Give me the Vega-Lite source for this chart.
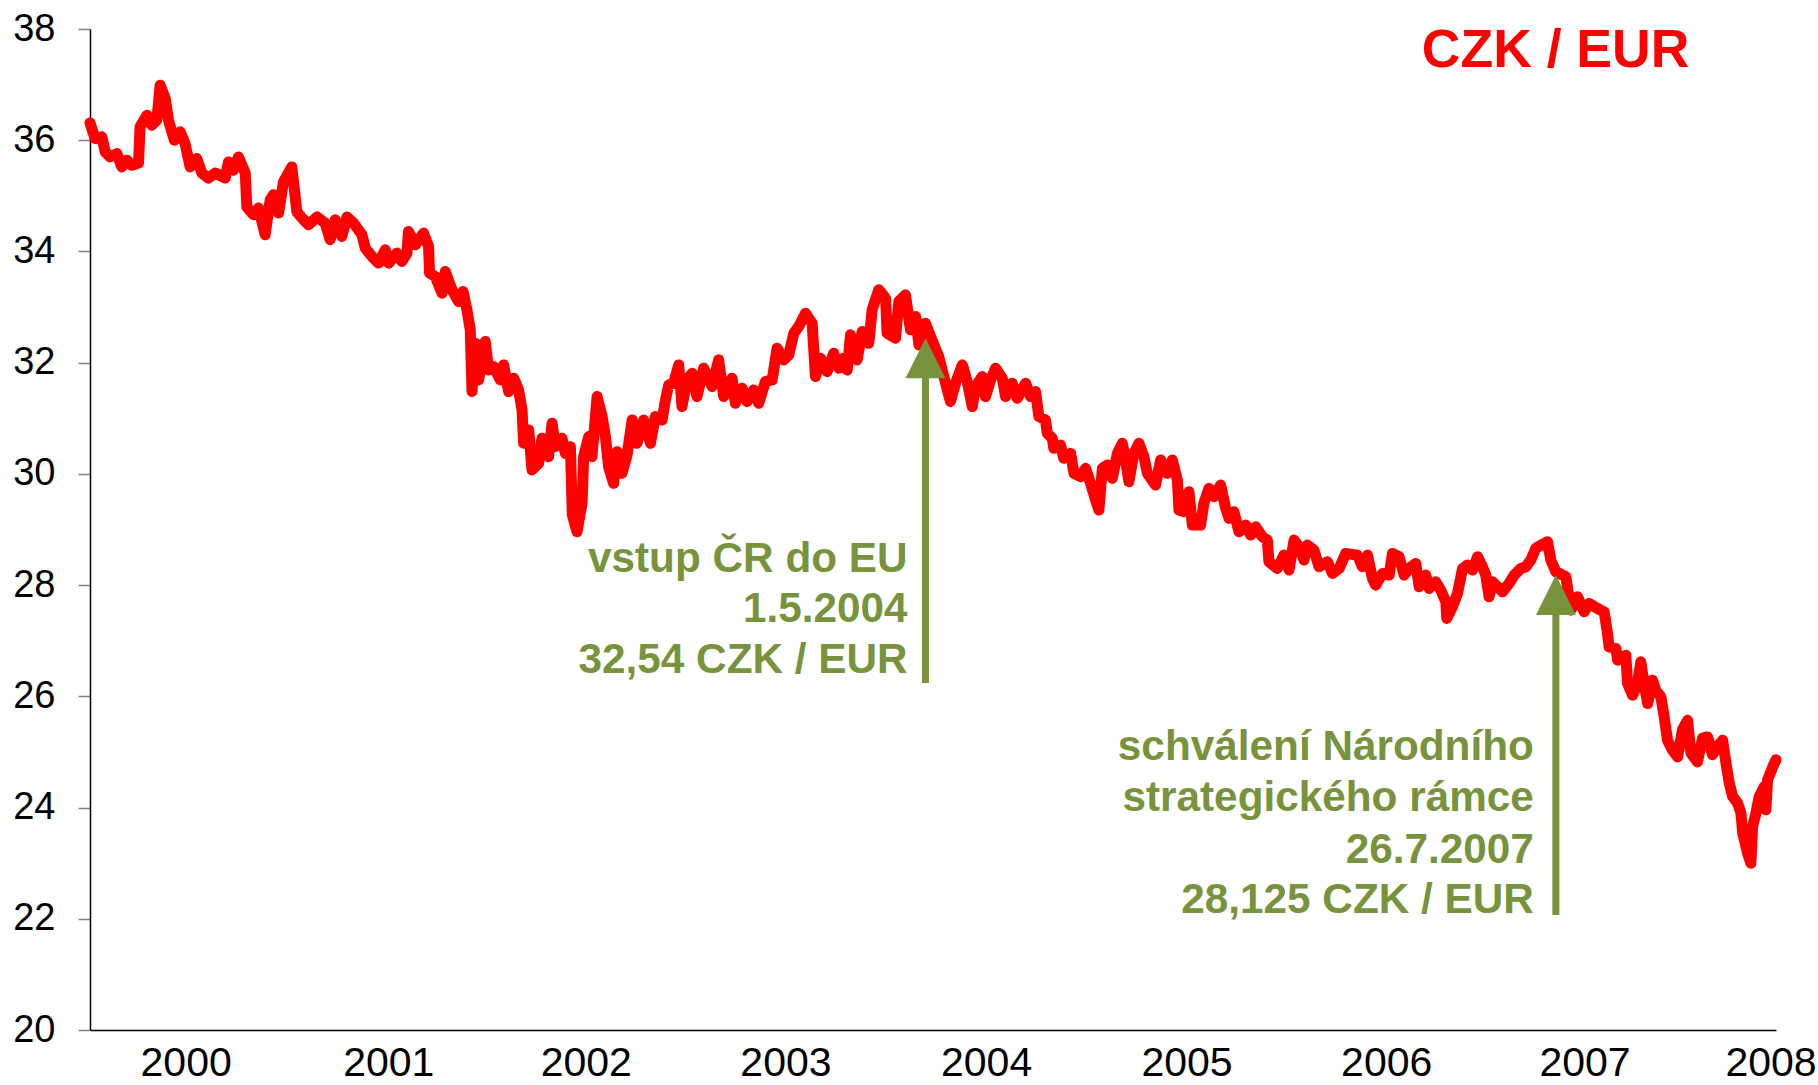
{
  "$schema": "https://vega.github.io/schema/vega-lite/v6.json",
  "width": 1686,
  "height": 1001,
  "autosize": {"type": "none"},
  "padding": {"left": 90, "top": 29, "right": 42, "bottom": 55},
  "background": "white",
  "config": {"view": {"stroke": null}, "font": "Liberation Sans"},
  "datasets": {
    "rate": [
      {"t":2000.041,"v":36.31},{"t":2000.067,"v":36.03},{"t":2000.102,"v":36.06},{"t":2000.119,"v":35.79},{"t":2000.144,"v":35.70},
      {"t":2000.179,"v":35.76},{"t":2000.204,"v":35.52},{"t":2000.230,"v":35.64},{"t":2000.256,"v":35.55},{"t":2000.290,"v":35.59},
      {"t":2000.298,"v":36.24},{"t":2000.333,"v":36.45},{"t":2000.358,"v":36.27},{"t":2000.384,"v":36.36},{"t":2000.401,"v":36.99},
      {"t":2000.427,"v":36.75},{"t":2000.444,"v":36.36},{"t":2000.474,"v":36.00},{"t":2000.504,"v":36.15},{"t":2000.529,"v":35.94},
      {"t":2000.555,"v":35.52},{"t":2000.589,"v":35.67},{"t":2000.615,"v":35.41},{"t":2000.649,"v":35.32},{"t":2000.683,"v":35.41},
      {"t":2000.735,"v":35.32},{"t":2000.752,"v":35.61},{"t":2000.777,"v":35.46},{"t":2000.803,"v":35.70},{"t":2000.838,"v":35.41},
      {"t":2000.846,"v":34.80},{"t":2000.880,"v":34.66},{"t":2000.906,"v":34.78},{"t":2000.940,"v":34.30},{"t":2000.966,"v":34.93},
      {"t":2000.983,"v":35.02},{"t":2001.009,"v":34.69},{"t":2001.034,"v":35.25},{"t":2001.077,"v":35.52},{"t":2001.103,"v":34.71},
      {"t":2001.137,"v":34.57},{"t":2001.163,"v":34.48},{"t":2001.206,"v":34.62},{"t":2001.248,"v":34.51},{"t":2001.274,"v":34.21},
      {"t":2001.300,"v":34.57},{"t":2001.334,"v":34.27},{"t":2001.360,"v":34.62},{"t":2001.394,"v":34.51},{"t":2001.437,"v":34.30},
      {"t":2001.454,"v":34.06},{"t":2001.488,"v":33.91},{"t":2001.522,"v":33.79},{"t":2001.557,"v":34.03},{"t":2001.574,"v":33.79},
      {"t":2001.617,"v":33.97},{"t":2001.642,"v":33.82},{"t":2001.668,"v":33.97},{"t":2001.676,"v":34.36},{"t":2001.711,"v":34.12},
      {"t":2001.753,"v":34.33},{"t":2001.779,"v":34.09},{"t":2001.784,"v":33.61},{"t":2001.813,"v":33.55},{"t":2001.848,"v":33.25},
      {"t":2001.865,"v":33.64},{"t":2001.899,"v":33.31},{"t":2001.933,"v":33.10},{"t":2001.956,"v":33.28},{"t":2001.976,"v":32.95},
      {"t":2001.993,"v":32.59},{"t":2002.002,"v":31.48},{"t":2002.019,"v":32.35},{"t":2002.036,"v":31.69},{"t":2002.070,"v":32.38},
      {"t":2002.087,"v":31.87},{"t":2002.113,"v":31.93},{"t":2002.147,"v":31.69},{"t":2002.164,"v":31.96},{"t":2002.190,"v":31.48},
      {"t":2002.216,"v":31.72},{"t":2002.241,"v":31.51},{"t":2002.259,"v":31.15},{"t":2002.267,"v":30.55},{"t":2002.293,"v":30.79},
      {"t":2002.310,"v":30.07},{"t":2002.344,"v":30.19},{"t":2002.361,"v":30.64},{"t":2002.395,"v":30.31},{"t":2002.413,"v":30.91},
      {"t":2002.430,"v":30.49},{"t":2002.464,"v":30.64},{"t":2002.481,"v":30.37},{"t":2002.507,"v":30.49},{"t":2002.517,"v":29.26},
      {"t":2002.541,"v":28.96},{"t":2002.567,"v":29.47},{"t":2002.575,"v":30.31},{"t":2002.601,"v":30.67},{"t":2002.618,"v":30.31},
      {"t":2002.644,"v":31.39},{"t":2002.670,"v":31.03},{"t":2002.687,"v":30.67},{"t":2002.703,"v":30.13},{"t":2002.729,"v":29.83},
      {"t":2002.747,"v":30.40},{"t":2002.772,"v":30.01},{"t":2002.798,"v":30.34},{"t":2002.824,"v":30.97},{"t":2002.849,"v":30.55},
      {"t":2002.883,"v":30.97},{"t":2002.918,"v":30.55},{"t":2002.943,"v":31.03},{"t":2002.978,"v":30.97},{"t":2002.995,"v":31.33},
      {"t":2003.012,"v":31.60},{"t":2003.037,"v":31.63},{"t":2003.063,"v":31.96},{"t":2003.080,"v":31.21},{"t":2003.106,"v":31.69},
      {"t":2003.132,"v":31.81},{"t":2003.157,"v":31.39},{"t":2003.191,"v":31.90},{"t":2003.235,"v":31.57},{"t":2003.268,"v":32.05},
      {"t":2003.294,"v":31.39},{"t":2003.337,"v":31.72},{"t":2003.354,"v":31.27},{"t":2003.389,"v":31.54},{"t":2003.414,"v":31.30},
      {"t":2003.448,"v":31.51},{"t":2003.474,"v":31.27},{"t":2003.508,"v":31.66},{"t":2003.543,"v":31.69},{"t":2003.568,"v":32.26},
      {"t":2003.602,"v":32.05},{"t":2003.628,"v":32.14},{"t":2003.654,"v":32.53},{"t":2003.679,"v":32.65},{"t":2003.714,"v":32.89},
      {"t":2003.748,"v":32.71},{"t":2003.765,"v":31.75},{"t":2003.791,"v":32.08},{"t":2003.825,"v":31.84},{"t":2003.859,"v":32.17},
      {"t":2003.885,"v":31.90},{"t":2003.910,"v":32.08},{"t":2003.928,"v":31.87},{"t":2003.945,"v":32.50},{"t":2003.979,"v":32.05},
      {"t":2004.005,"v":32.56},{"t":2004.039,"v":32.35},{"t":2004.056,"v":32.95},{"t":2004.090,"v":33.31},{"t":2004.125,"v":33.16},
      {"t":2004.133,"v":32.53},{"t":2004.176,"v":32.44},{"t":2004.193,"v":33.10},{"t":2004.227,"v":33.22},{"t":2004.253,"v":32.59},
      {"t":2004.279,"v":32.83},{"t":2004.296,"v":32.32},{"t":2004.330,"v":32.71},{"t":2004.356,"v":32.47},{"t":2004.398,"v":32.11},
      {"t":2004.424,"v":31.75},{"t":2004.458,"v":31.30},{"t":2004.484,"v":31.63},{"t":2004.519,"v":31.96},{"t":2004.544,"v":31.66},
      {"t":2004.570,"v":31.21},{"t":2004.587,"v":31.57},{"t":2004.621,"v":31.75},{"t":2004.638,"v":31.39},{"t":2004.664,"v":31.69},
      {"t":2004.690,"v":31.90},{"t":2004.724,"v":31.72},{"t":2004.741,"v":31.39},{"t":2004.775,"v":31.63},{"t":2004.801,"v":31.36},
      {"t":2004.844,"v":31.63},{"t":2004.869,"v":31.39},{"t":2004.895,"v":31.48},{"t":2004.912,"v":31.03},{"t":2004.946,"v":30.97},
      {"t":2004.955,"v":30.73},{"t":2004.981,"v":30.64},{"t":2004.989,"v":30.46},{"t":2005.023,"v":30.52},{"t":2005.040,"v":30.28},
      {"t":2005.075,"v":30.37},{"t":2005.092,"v":30.01},{"t":2005.126,"v":29.95},{"t":2005.152,"v":30.10},{"t":2005.177,"v":29.83},
      {"t":2005.203,"v":29.53},{"t":2005.220,"v":29.35},{"t":2005.238,"v":30.10},{"t":2005.263,"v":30.16},{"t":2005.289,"v":29.92},
      {"t":2005.315,"v":30.37},{"t":2005.340,"v":30.55},{"t":2005.357,"v":30.25},{"t":2005.374,"v":29.86},{"t":2005.400,"v":30.37},
      {"t":2005.426,"v":30.55},{"t":2005.451,"v":30.31},{"t":2005.469,"v":30.01},{"t":2005.511,"v":29.80},{"t":2005.537,"v":30.25},
      {"t":2005.571,"v":30.01},{"t":2005.597,"v":30.25},{"t":2005.623,"v":29.89},{"t":2005.631,"v":29.35},{"t":2005.657,"v":29.32},
      {"t":2005.682,"v":29.68},{"t":2005.700,"v":29.08},{"t":2005.742,"v":29.08},{"t":2005.759,"v":29.47},{"t":2005.785,"v":29.74},
      {"t":2005.811,"v":29.59},{"t":2005.845,"v":29.80},{"t":2005.871,"v":29.38},{"t":2005.888,"v":29.20},{"t":2005.913,"v":29.32},
      {"t":2005.939,"v":28.96},{"t":2005.974,"v":29.08},{"t":2005.999,"v":28.90},{"t":2006.025,"v":29.05},{"t":2006.059,"v":28.87},
      {"t":2006.085,"v":28.81},{"t":2006.093,"v":28.42},{"t":2006.136,"v":28.30},{"t":2006.170,"v":28.54},{"t":2006.196,"v":28.27},
      {"t":2006.222,"v":28.81},{"t":2006.247,"v":28.69},{"t":2006.273,"v":28.45},{"t":2006.290,"v":28.72},{"t":2006.324,"v":28.63},
      {"t":2006.350,"v":28.33},{"t":2006.393,"v":28.42},{"t":2006.419,"v":28.21},{"t":2006.453,"v":28.30},{"t":2006.487,"v":28.57},
      {"t":2006.547,"v":28.54},{"t":2006.573,"v":28.33},{"t":2006.599,"v":28.54},{"t":2006.624,"v":28.12},{"t":2006.641,"v":28.00},
      {"t":2006.676,"v":28.21},{"t":2006.710,"v":28.18},{"t":2006.727,"v":28.57},{"t":2006.761,"v":28.51},{"t":2006.787,"v":28.18},
      {"t":2006.812,"v":28.30},{"t":2006.847,"v":28.39},{"t":2006.864,"v":27.97},{"t":2006.898,"v":28.18},{"t":2006.915,"v":27.94},
      {"t":2006.949,"v":28.06},{"t":2006.975,"v":27.91},{"t":2007.001,"v":27.70},{"t":2007.006,"v":27.40},{"t":2007.035,"v":27.61},
      {"t":2007.061,"v":27.85},{"t":2007.087,"v":28.30},{"t":2007.112,"v":28.36},{"t":2007.138,"v":28.27},{"t":2007.164,"v":28.51},
      {"t":2007.189,"v":28.33},{"t":2007.206,"v":28.18},{"t":2007.223,"v":27.79},{"t":2007.241,"v":28.06},{"t":2007.266,"v":27.97},
      {"t":2007.292,"v":27.88},{"t":2007.326,"v":28.03},{"t":2007.352,"v":28.18},{"t":2007.386,"v":28.30},{"t":2007.412,"v":28.33},
      {"t":2007.437,"v":28.45},{"t":2007.463,"v":28.66},{"t":2007.489,"v":28.72},{"t":2007.523,"v":28.78},{"t":2007.540,"v":28.45},
      {"t":2007.566,"v":28.24},{"t":2007.617,"v":28.15},{"t":2007.643,"v":27.55},{"t":2007.677,"v":27.79},{"t":2007.711,"v":27.52},
      {"t":2007.737,"v":27.67},{"t":2007.780,"v":27.58},{"t":2007.814,"v":27.52},{"t":2007.831,"v":27.13},{"t":2007.839,"v":26.89},
      {"t":2007.874,"v":26.86},{"t":2007.883,"v":26.65},{"t":2007.925,"v":26.74},{"t":2007.934,"v":26.23},{"t":2007.960,"v":26.02},
      {"t":2007.985,"v":26.23},{"t":2008.002,"v":26.62},{"t":2008.019,"v":26.23},{"t":2008.037,"v":25.87},{"t":2008.062,"v":26.29},
      {"t":2008.079,"v":26.11},{"t":2008.105,"v":25.99},{"t":2008.122,"v":25.63},{"t":2008.139,"v":25.21},{"t":2008.165,"v":25.03},
      {"t":2008.191,"v":24.91},{"t":2008.216,"v":25.40},{"t":2008.242,"v":25.57},{"t":2008.259,"v":24.98},{"t":2008.293,"v":24.82},
      {"t":2008.319,"v":25.25},{"t":2008.345,"v":25.27},{"t":2008.370,"v":24.95},{"t":2008.396,"v":25.10},{"t":2008.422,"v":25.21},
      {"t":2008.439,"v":24.80},{"t":2008.456,"v":24.44},{"t":2008.473,"v":24.20},{"t":2008.499,"v":24.08},{"t":2008.516,"v":23.90},
      {"t":2008.525,"v":23.54},{"t":2008.550,"v":23.18},{"t":2008.567,"v":23.00},{"t":2008.576,"v":23.66},{"t":2008.593,"v":23.90},
      {"t":2008.610,"v":24.20},{"t":2008.636,"v":24.38},{"t":2008.644,"v":23.96},{"t":2008.653,"v":24.50},{"t":2008.679,"v":24.73},
      {"t":2008.696,"v":24.86}
    ],
    "arrows": [
      {"t":2004.330,"y1":26.24,"y2":31.80,"tip":32.44},
      {"t":2007.566,"y1":22.07,"y2":27.55,"tip":28.18}
    ],
    "notes": [
      {"t":2004.238,"v":28.24,"label":"vstup ČR do EU"},
      {"t":2004.238,"v":27.34,"label":"1.5.2004"},
      {"t":2004.238,"v":26.42,"label":"32,54 CZK / EUR"},
      {"t":2007.453,"v":24.86,"label":"schválení Národního"},
      {"t":2007.453,"v":23.94,"label":"strategického rámce"},
      {"t":2007.453,"v":23.00,"label":"26.7.2007"},
      {"t":2007.453,"v":22.10,"label":"28,125 CZK / EUR"}
    ],
    "heading": [
      {"t":2008.251,"v":37.32,"label":"CZK / EUR"}
    ]
  },
  "layer": [
    {
      "data": {"name": "rate"},
      "mark": {"type": "line", "color": "#FF0000", "strokeWidth": 11, "strokeCap": "round", "strokeJoin": "round"},
      "encoding": {
        "x": {
          "field": "t", "type": "quantitative", "title": null,
          "scale": {"domain": [2000.041, 2008.696], "nice": false, "zero": false},
          "axis": {
            "title": null, "grid": false, "ticks": false,
            "values": [2000.532, 2001.572, 2002.586, 2003.611, 2004.641, 2005.670, 2006.695, 2007.713, 2008.668],
            "labelExpr": "format(floor(datum.value), 'd')",
            "labelFlush": false, "labelOverlap": false,
            "domainColor": "#000000", "domainWidth": 1.5,
            "labelFont": "Liberation Sans", "labelFontSize": 41, "labelColor": "#000000", "labelPadding": 13
          }
        },
        "y": {
          "field": "v", "type": "quantitative", "title": null,
          "scale": {"domain": [20, 38], "nice": false, "zero": false},
          "axis": {
            "title": null, "grid": false, "format": "d",
            "values": [20, 22, 24, 26, 28, 30, 32, 34, 36, 38],
            "tickSize": 12, "tickColor": "#808080", "tickWidth": 1.5,
            "domainColor": "#000000", "domainWidth": 1.5,
            "labelFont": "Liberation Sans", "labelFontSize": 38, "labelColor": "#000000", "labelPadding": 23
          }
        }
      }
    },
    {
      "data": {"name": "arrows"},
      "mark": {"type": "rule", "color": "#77933C", "strokeWidth": 7},
      "encoding": {
        "x": {"field": "t", "type": "quantitative", "title": null},
        "y": {"field": "y1", "type": "quantitative", "title": null},
        "y2": {"field": "y2"}
      }
    },
    {
      "data": {"name": "arrows"},
      "mark": {"type": "point", "shape": "M0,0L-1,2L1,2Z", "size": 1600, "filled": true, "opacity": 1, "color": "#77933C", "strokeWidth": 0},
      "encoding": {
        "x": {"field": "t", "type": "quantitative", "title": null},
        "y": {"field": "tip", "type": "quantitative", "title": null}
      }
    },
    {
      "data": {"name": "notes"},
      "mark": {"type": "text", "align": "right", "baseline": "alphabetic", "font": "Liberation Sans", "fontWeight": "bold", "fontSize": 42.3, "color": "#77933C"},
      "encoding": {
        "x": {"field": "t", "type": "quantitative", "title": null},
        "y": {"field": "v", "type": "quantitative", "title": null},
        "text": {"field": "label"}
      }
    },
    {
      "data": {"name": "heading"},
      "mark": {"type": "text", "align": "right", "baseline": "alphabetic", "font": "Liberation Sans", "fontWeight": "bold", "fontSize": 53.5, "color": "#FF0000"},
      "encoding": {
        "x": {"field": "t", "type": "quantitative", "title": null},
        "y": {"field": "v", "type": "quantitative", "title": null},
        "text": {"field": "label"}
      }
    }
  ]
}
